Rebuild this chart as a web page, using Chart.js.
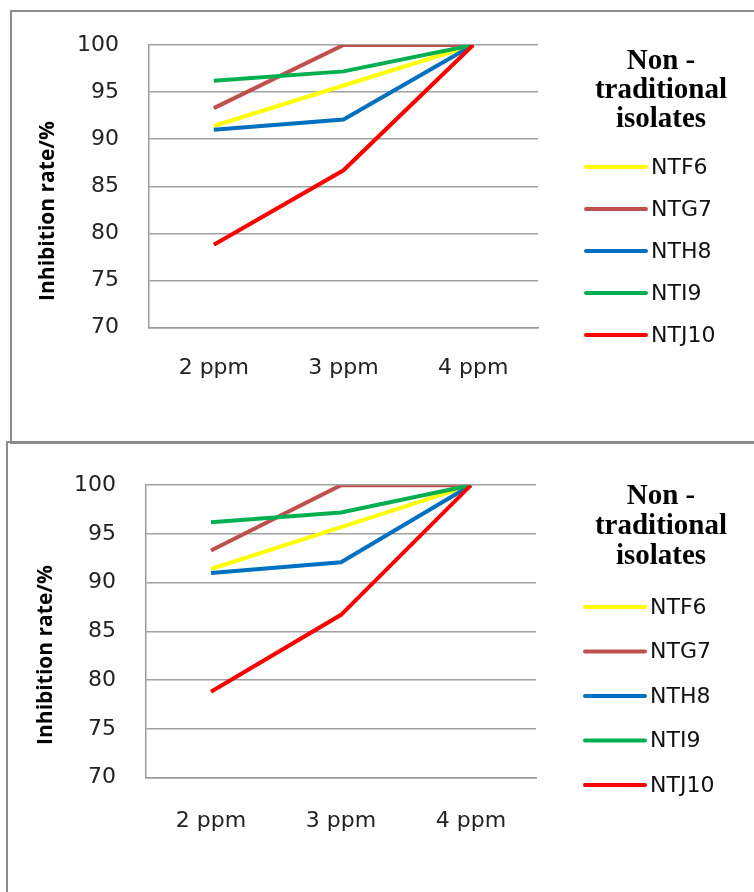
<!DOCTYPE html>
<html>
<head>
<meta charset="utf-8">
<script src="https://cdn.jsdelivr.net/npm/chart.js@4"></script>
<style>
  html, body { margin: 0; padding: 0; background: #fff; overflow: hidden; }
  body { width: 754px; height: 892px; position: relative; }
  .panel { position: absolute; border: 2px solid #8c8c8c; box-sizing: border-box; }
  #p1 { left: 10px; top: 10px; width: 800px; height: 434px; }
  #p2 { left: 6px; top: 441px; width: 800px; height: 500px; }
  canvas { position: absolute; left: 0; }
  #c1 { top: 0; }
  #c2 { top: 442px; }
</style>
</head>
<body>
<div class="panel" id="p1"></div>
<div class="panel" id="p2"></div>
<canvas id="c1" width="754" height="440"></canvas>
<canvas id="c2" width="754" height="450"></canvas>
<script>
const doses = ['2 ppm', '3 ppm', '4 ppm'];
const isolates = ['NTF6', 'NTG7', 'NTH8', 'NTI9', 'NTJ10'];
const ntf6 = [91.4, 95.7, 100];
const ntg7 = [93.3, 100, 100];
const nth8 = [91.0, 92.1, 100];
const nti9 = [96.2, 97.2, 100];
const ntj10 = [78.8, 86.7, 100];
const yTicks = [70, 75, 80, 85, 90, 95, 100];
const legendTitle = ['Non -', 'traditional', 'isolates'];
const yTitle = 'Inhibition rate/%';

const seriesValues = [ntf6, ntg7, nth8, nti9, ntj10];
const colors = ['#ffff00', '#c0504d', '#0070c0', '#00b050', '#ff0000'];

// legend + y title drawn by hand (Chart.js legend title can't wrap)
const sideText = {
    id: 'sideText',
    afterDraw(chart, args, opts) {
        const ctx = chart.ctx;
        ctx.save();
        // y axis title
        ctx.translate(opts.yTitleX, opts.yTitleY);
        ctx.rotate(-Math.PI / 2);
        ctx.font = 'bold 21px "Open Sans"';
        ctx.fillStyle = '#000';
        ctx.textAlign = 'center';
        ctx.textBaseline = 'middle';
        ctx.fillText(yTitle, 0, 0);
        ctx.restore();

        ctx.save();
        ctx.font = 'bold 29px "Liberation Serif"';
        ctx.fillStyle = '#000';
        ctx.textAlign = 'center';
        ctx.textBaseline = 'middle';
        legendTitle.forEach((t, i) => {
            ctx.fillText(t, opts.titleX, opts.titleY + i * opts.titleGap);
        });

        ctx.font = '22px "DejaVu Sans"';
        ctx.textAlign = 'left';
        ctx.lineCap = 'round';
        ctx.lineWidth = 4;
        chart.data.datasets.forEach((ds, i) => {
            const y = opts.itemY + i * opts.itemGap;
            ctx.strokeStyle = ds.borderColor;
            ctx.beginPath();
            ctx.moveTo(opts.lineX0, y);
            ctx.lineTo(opts.lineX1, y);
            ctx.stroke();
            ctx.fillStyle = '#111';
            ctx.fillText(ds.label, opts.lineX1 + 5, y + 1);
        });
        ctx.restore();
    }
};

function makeChart(id, p) {
    const ctx = document.getElementById(id).getContext('2d');
    return new Chart(ctx, {
        type: 'line',
        data: {
            labels: doses,
            datasets: isolates.map((name, i) => ({
                label: name,
                data: seriesValues[i],
                borderColor: colors[i],
                backgroundColor: colors[i],
                borderWidth: 4,
                pointRadius: 0,
                tension: 0,
                order: isolates.length - i
            }))
        },
        options: {
            responsive: false,
            animation: false,
            layout: {
                padding: { left: 0, top: p.top, right: p.right, bottom: p.bottom }
            },
            plugins: {
                legend: { display: false },
                tooltip: { enabled: false },
                sideText: p.side
            },
            scales: {
                x: {
                    offset: true,
                    grid: { display: false, drawTicks: false },
                    border: { display: true, color: '#999', width: 1.5 },
                    ticks: {
                        padding: p.xPad,
                        color: '#222',
                        font: { family: 'DejaVu Sans', size: 22 }
                    }
                },
                y: {
                    min: 70,
                    max: 100,
                    afterBuildTicks: (scale) => {
                        scale.ticks = yTicks.map(v => ({ value: v }));
                    },
                    afterFit: (scale) => {
                        scale.width = p.left;
                    },
                    grid: { color: '#a0a0a0', lineWidth: 1.5, drawTicks: false },
                    border: { display: true, color: '#999', width: 1.5 },
                    ticks: {
                        padding: 30,
                        color: '#222',
                        font: { family: 'DejaVu Sans', size: 22 }
                    }
                }
            }
        },
        plugins: [sideText]
    });
}

makeChart('c1', {
    left: 149, top: 45, right: 216, bottom: 32, xPad: 27,
    side: {
        yTitleX: 48, yTitleY: 211,
        titleX: 661, titleY: 62, titleGap: 29,
        lineX0: 586, lineX1: 646, itemY: 167, itemGap: 42
    }
});

makeChart('c2', {
    left: 146, top: 37, right: 218, bottom: 28, xPad: 30,
    side: {
        yTitleX: 46, yTitleY: 213,
        titleX: 661, titleY: 55, titleGap: 30,
        lineX0: 585, lineX1: 645, itemY: 165, itemGap: 44.5
    }
});
</script>
</body>
</html>
